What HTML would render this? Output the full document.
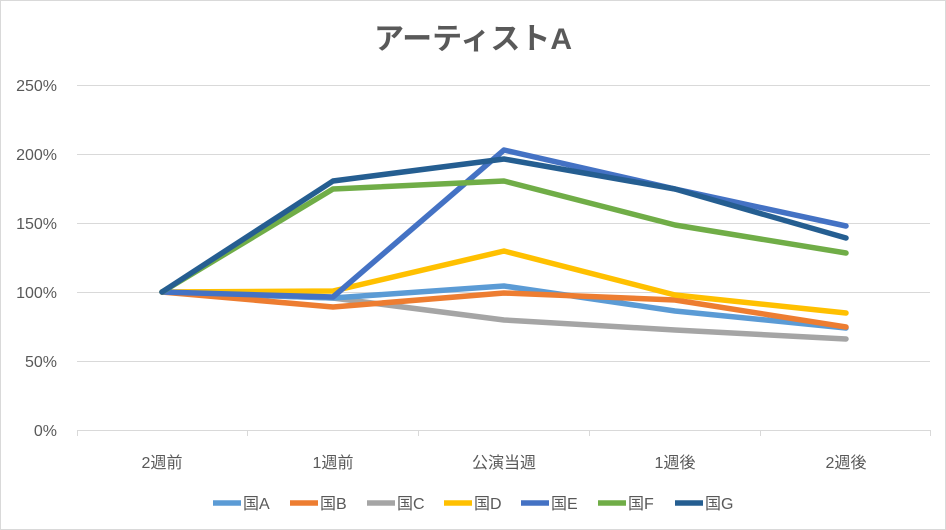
<!DOCTYPE html>
<html><head><meta charset="utf-8"><style>
body{margin:0;background:#fff}
svg{display:block}
text{font-family:"Liberation Sans","Noto Sans CJK JP",sans-serif;fill:#595959}
</style></head><body>
<svg width="946" height="530" viewBox="0 0 946 530">
<rect x="0.5" y="0.5" width="945" height="529" fill="#fff" stroke="#d9d9d9"/>
<text x="473" y="49" font-size="30" font-weight="bold" text-anchor="middle">アーティストA</text>
<g stroke="#d9d9d9" stroke-width="1">
<line x1="77" y1="85.5" x2="930" y2="85.5"/>
<line x1="77" y1="154.5" x2="930" y2="154.5"/>
<line x1="77" y1="223.5" x2="930" y2="223.5"/>
<line x1="77" y1="292.5" x2="930" y2="292.5"/>
<line x1="77" y1="361.5" x2="930" y2="361.5"/>
<line x1="77" y1="430.5" x2="930" y2="430.5"/>
<line x1="77.5" y1="430" x2="77.5" y2="436"/>
<line x1="247.5" y1="430" x2="247.5" y2="436"/>
<line x1="418.5" y1="430" x2="418.5" y2="436"/>
<line x1="589.5" y1="430" x2="589.5" y2="436"/>
<line x1="760.5" y1="430" x2="760.5" y2="436"/>
<line x1="930.5" y1="430" x2="930.5" y2="436"/>
</g>
<g font-size="16" text-anchor="end">
<text x="57" y="91">250%</text><text x="57" y="160">200%</text><text x="57" y="229">150%</text>
<text x="57" y="298">100%</text><text x="57" y="367">50%</text><text x="57" y="436">0%</text>
</g>
<g font-size="16" text-anchor="middle">
<text x="162" y="468">2週前</text><text x="333" y="468">1週前</text><text x="504" y="468">公演当週</text>
<text x="675" y="468">1週後</text><text x="846" y="468">2週後</text>
</g>
<g fill="none" stroke-width="5.5" stroke-linejoin="round" stroke-linecap="round">
<polyline stroke="#A5A5A5" points="162,292 333,298 504,320 675,330 846,339"/>
<polyline stroke="#5B9BD5" points="162,292 333,298 504,286 675,311 846,328"/>
<polyline stroke="#ED7D31" points="162,292 333,307 504,293 675,300 846,327"/>
<polyline stroke="#FFC000" points="162,292 333,291 504,251 675,295 846,313"/>
<polyline stroke="#4472C4" points="162,292 333,297 504,150 675,189 846,226"/>
<polyline stroke="#70AD47" points="162,292 333,189 504,181 675,225 846,253"/>
<polyline stroke="#255E91" points="162,292 333,181 504,159 675,189 846,238"/>
</g>
<g stroke-width="5.5" font-size="16">
<line x1="213" y1="503" x2="241" y2="503" stroke="#5B9BD5"/><text x="243" y="509">国A</text>
<line x1="290" y1="503" x2="318" y2="503" stroke="#ED7D31"/><text x="320" y="509">国B</text>
<line x1="367" y1="503" x2="395" y2="503" stroke="#A5A5A5"/><text x="397" y="509">国C</text>
<line x1="444" y1="503" x2="472" y2="503" stroke="#FFC000"/><text x="474" y="509">国D</text>
<line x1="521" y1="503" x2="549" y2="503" stroke="#4472C4"/><text x="551" y="509">国E</text>
<line x1="598" y1="503" x2="626" y2="503" stroke="#70AD47"/><text x="628" y="509">国F</text>
<line x1="675" y1="503" x2="703" y2="503" stroke="#255E91"/><text x="705" y="509">国G</text>
</g>
</svg>
</body></html>
